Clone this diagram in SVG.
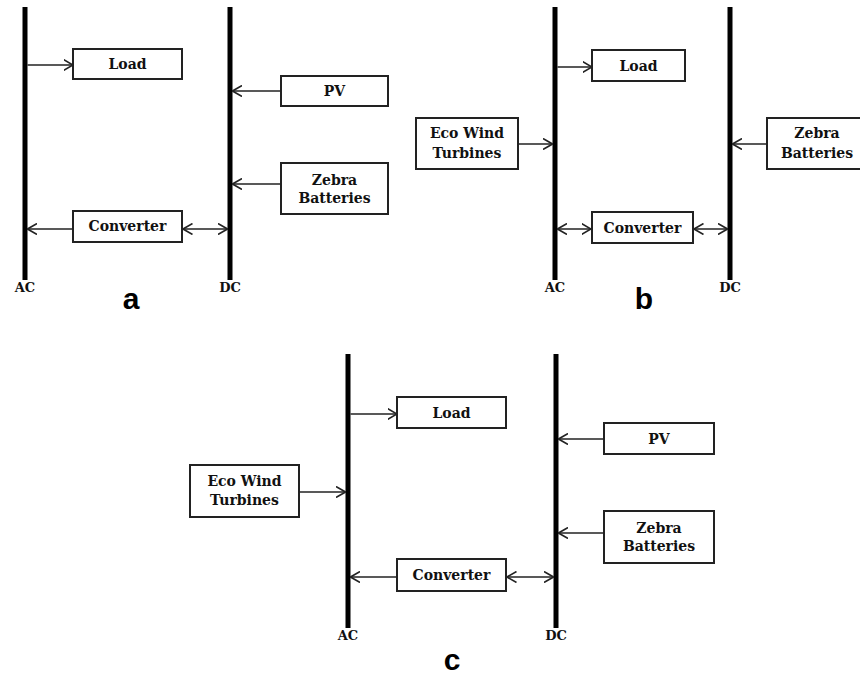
<svg xmlns="http://www.w3.org/2000/svg" width="860" height="678" viewBox="0 0 860 678">
<defs>
<style>
.bus{stroke:#000;stroke-width:5;fill:none}
.box{fill:#fff;stroke:#222;stroke-width:2}
.ln{stroke:#222;stroke-width:1.6;fill:none}
.t{font-family:"DejaVu Serif",serif;font-weight:bold;font-size:14px;fill:#111;text-anchor:middle}
.bl{font-family:"DejaVu Serif",serif;font-weight:bold;font-size:13px;fill:#111;text-anchor:middle}
.pl{font-family:"Liberation Sans",Arial,sans-serif;font-weight:bold;font-size:30px;fill:#000;text-anchor:middle}
</style>
<marker id="ah" viewBox="0 0 10 12" refX="9.5" refY="6" markerWidth="10" markerHeight="12" markerUnits="userSpaceOnUse" orient="auto-start-reverse">
<path d="M0,0.5 L9.5,6 L0,11.5" fill="none" stroke="#222" stroke-width="1.6"/>
</marker>
</defs>
<rect width="860" height="678" fill="#fff"/>

<!-- Panel a -->
<g id="a-ac-bus"><line class="bus" x1="25" y1="7" x2="25" y2="280"/><text class="bl" x="25" y="292">AC</text></g>
<g id="a-dc-bus"><line class="bus" x1="230" y1="7" x2="230" y2="280"/><text class="bl" x="230" y="292">DC</text></g>
<g id="a-load"><rect class="box" x="73" y="49" width="109" height="30"/><text class="t" x="127.5" y="69">Load</text></g>
<g id="a-pv"><rect class="box" x="281" y="76" width="107" height="30"/><text class="t" x="334.5" y="96">PV</text></g>
<g id="a-zebra"><rect class="box" x="281" y="163" width="107" height="51"/><text class="t" x="334.5" y="185">Zebra</text><text class="t" x="334.5" y="203">Batteries</text></g>
<g id="a-converter"><rect class="box" x="73" y="211" width="109" height="31"/><text class="t" x="127.5" y="231">Converter</text></g>
<text id="a-label" class="pl" x="131" y="309">a</text>

<!-- Panel b -->
<g id="b-ac-bus"><line class="bus" x1="555" y1="7" x2="555" y2="280"/><text class="bl" x="555" y="292">AC</text></g>
<g id="b-dc-bus"><line class="bus" x1="730" y1="7" x2="730" y2="280"/><text class="bl" x="730" y="292">DC</text></g>
<g id="b-load"><rect class="box" x="592" y="50" width="93" height="31"/><text class="t" x="638.5" y="71">Load</text></g>
<g id="b-wind"><rect class="box" x="416" y="118" width="102" height="51"/><text class="t" x="467" y="138">Eco Wind</text><text class="t" x="467" y="158">Turbines</text></g>
<g id="b-zebra"><rect class="box" x="767" y="118" width="101" height="51"/><text class="t" x="817" y="138">Zebra</text><text class="t" x="817" y="158">Batteries</text></g>
<g id="b-converter"><rect class="box" x="592" y="212" width="101" height="31"/><text class="t" x="642.5" y="233">Converter</text></g>
<text id="b-label" class="pl" x="644" y="309">b</text>

<!-- Panel c -->
<g id="c-ac-bus"><line class="bus" x1="348" y1="354" x2="348" y2="628"/><text class="bl" x="348" y="640">AC</text></g>
<g id="c-dc-bus"><line class="bus" x1="556" y1="354" x2="556" y2="628"/><text class="bl" x="556" y="640">DC</text></g>
<g id="c-load"><rect class="box" x="397" y="397" width="109" height="31"/><text class="t" x="451.5" y="418">Load</text></g>
<g id="c-wind"><rect class="box" x="190" y="465" width="109" height="52"/><text class="t" x="244.5" y="486">Eco Wind</text><text class="t" x="244.5" y="505">Turbines</text></g>
<g id="c-pv"><rect class="box" x="604" y="423" width="110" height="31"/><text class="t" x="659" y="444">PV</text></g>
<g id="c-zebra"><rect class="box" x="604" y="511" width="110" height="52"/><text class="t" x="659" y="533">Zebra</text><text class="t" x="659" y="551">Batteries</text></g>
<g id="c-converter"><rect class="box" x="397" y="559" width="109" height="32"/><text class="t" x="451.5" y="580">Converter</text></g>
<text id="c-label" class="pl" x="452" y="670">c</text>

<g id="connectors">
<!-- a -->
<line class="ln" x1="27.5" y1="65" x2="73" y2="65" marker-end="url(#ah)"/>
<line class="ln" x1="281" y1="91" x2="232.5" y2="91" marker-end="url(#ah)"/>
<line class="ln" x1="281" y1="184" x2="232.5" y2="184" marker-end="url(#ah)"/>
<line class="ln" x1="73" y1="229" x2="27.5" y2="229" marker-end="url(#ah)"/>
<line class="ln" x1="183" y1="229" x2="227.5" y2="229" marker-start="url(#ah)" marker-end="url(#ah)"/>
<!-- b -->
<line class="ln" x1="557.5" y1="67" x2="592" y2="67" marker-end="url(#ah)"/>
<line class="ln" x1="518" y1="144" x2="552.5" y2="144" marker-end="url(#ah)"/>
<line class="ln" x1="767" y1="144" x2="732.5" y2="144" marker-end="url(#ah)"/>
<line class="ln" x1="557.5" y1="229" x2="591" y2="229" marker-start="url(#ah)" marker-end="url(#ah)"/>
<line class="ln" x1="694" y1="229" x2="727.5" y2="229" marker-start="url(#ah)" marker-end="url(#ah)"/>
<!-- c -->
<line class="ln" x1="350.5" y1="414" x2="397" y2="414" marker-end="url(#ah)"/>
<line class="ln" x1="299" y1="492" x2="345.5" y2="492" marker-end="url(#ah)"/>
<line class="ln" x1="604" y1="439" x2="558.5" y2="439" marker-end="url(#ah)"/>
<line class="ln" x1="604" y1="533" x2="558.5" y2="533" marker-end="url(#ah)"/>
<line class="ln" x1="397" y1="577" x2="350.5" y2="577" marker-end="url(#ah)"/>
<line class="ln" x1="507" y1="577" x2="553.5" y2="577" marker-start="url(#ah)" marker-end="url(#ah)"/>
</g>
</svg>
